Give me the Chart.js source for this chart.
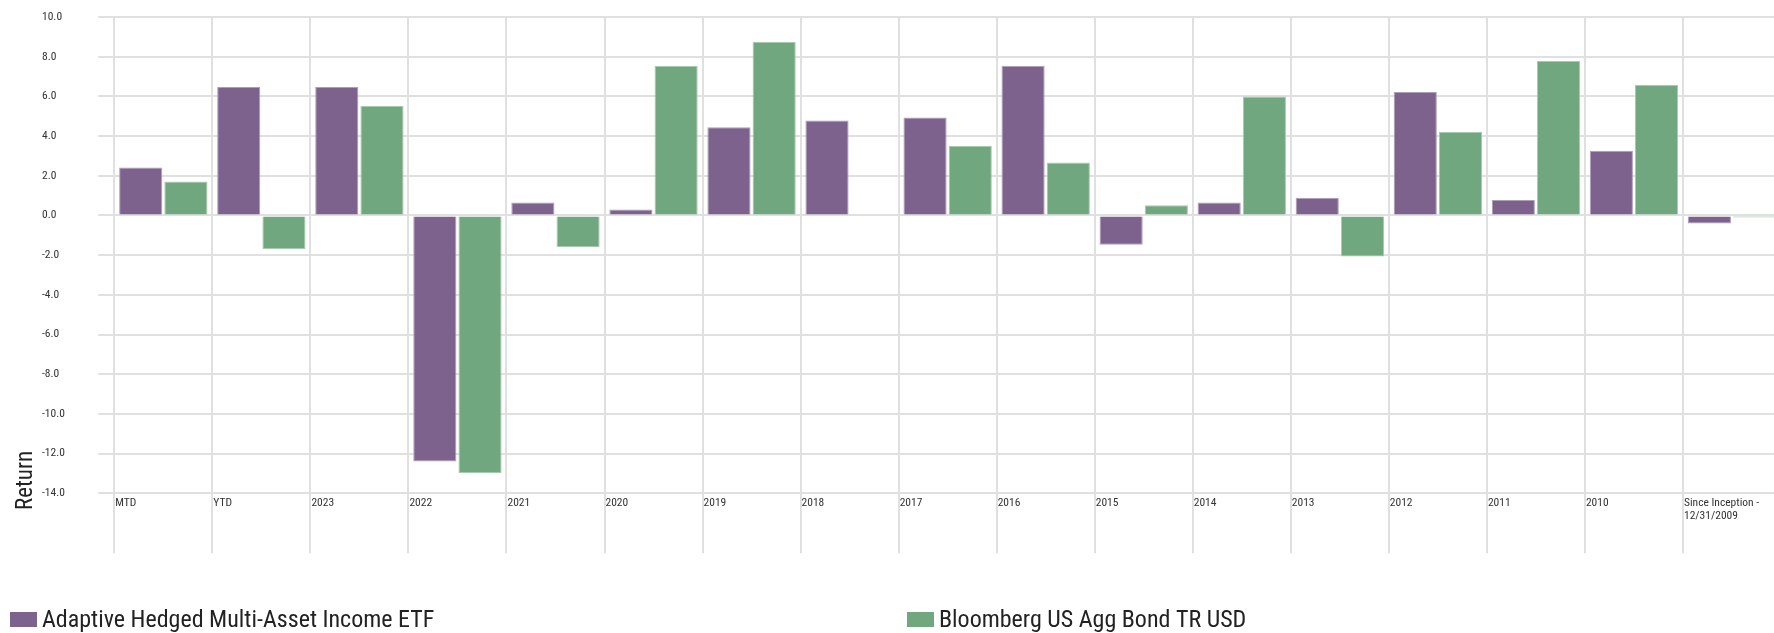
<!DOCTYPE html>
<html>
<head>
<meta charset="utf-8">
<script src="https://cdn.jsdelivr.net/npm/chart.js@4.4.1/dist/chart.umd.min.js"></script>
<style>
  html, body { margin: 0; padding: 0; background: #fff; overflow: hidden; width: 1774px; height: 633px; }
  canvas { display: block; position: absolute; left: 0; top: 0; }
</style>
</head>
<body>
<canvas id="c" width="1782" height="633"></canvas>
<script>
const categories = ['MTD', 'YTD', '2023', '2022', '2021', '2020', '2019', '2018', '2017', '2016', '2015', '2014', '2013', '2012', '2011', '2010', ['Since Inception -', '12/31/2009']];
const fundName = 'Adaptive Hedged Multi-Asset Income ETF';
const benchName = 'Bloomberg US Agg Bond TR USD';
const fundReturns = [2.42, 6.47, 6.47, -12.40, 0.65, 0.30, 4.45, 4.79, 4.94, 7.54, -1.48, 0.65, 0.89, 6.22, 0.78, 3.26, -0.40];
const benchReturns = [1.71, -1.69, 5.51, -12.98, -1.59, 7.53, 8.74, null, 3.51, 2.67, 0.52, 6.00, -2.07, 4.20, 7.78, 6.59, -0.10];
const yMin = -14, yMax = 10, yStep = 2;
const yAxisTitle = 'Return';

const FONT = "Roboto, 'Liberation Sans', sans-serif";
const PURPLE = '#7C628C';
const GREEN = '#70A77E';
const PURPLE_EDGE = '#ad9dba';
const GREEN_EDGE = '#a6caae';
const GRID = '#e0e0e0';

const customDecor = {
  id: 'customDecor',
  afterDraw(chart) {
    const ctx = chart.ctx;
    ctx.save();
    ctx.fillStyle = '#222';
    ctx.font = "condensed 23px " + FONT;
    ctx.textAlign = 'left';
    ctx.textBaseline = 'alphabetic';
    ctx.translate(31.5, 510);
    ctx.rotate(-Math.PI / 2);
    ctx.fillText(yAxisTitle, 0, 0);
    ctx.restore();
    ctx.save();
    const xs = [10, 907];
    chart.data.datasets.forEach((ds, i) => {
      ctx.fillStyle = ds.backgroundColor;
      ctx.fillRect(xs[i], 612, 27, 15);
      ctx.fillStyle = '#222';
      ctx.font = "condensed 24px " + FONT;
      ctx.textAlign = 'left';
      ctx.textBaseline = 'alphabetic';
      ctx.fillText(ds.label, xs[i] + 32, 627);
    });
    ctx.restore();
  }
};

const chart = new Chart(document.getElementById('c'), {
  type: 'bar',
  data: {
    labels: categories,
    datasets: [
      { label: fundName, data: fundReturns, backgroundColor: PURPLE, borderColor: PURPLE_EDGE, borderWidth: 1 },
      { label: benchName, data: benchReturns, backgroundColor: GREEN, borderColor: GREEN_EDGE, borderWidth: 1 }
    ]
  },
  options: {
    responsive: false,
    animation: false,
    devicePixelRatio: 1,
    layout: { padding: { top: 17, left: 42, right: 1, bottom: 79.7 } },
    categoryPercentage: 0.922,
    barPercentage: 0.955,
    plugins: { legend: { display: false }, tooltip: { enabled: false } },
    scales: {
      x: {
        offset: true,
        afterFit(scale) { scale.height = 60; },
        grid: { offset: true, color: GRID, lineWidth: 2, drawTicks: true, tickLength: 60, tickColor: GRID, tickWidth: 2 },
        border: { color: GRID, width: 2 },
        ticks: {
          align: 'start',
          autoSkip: false,
          maxRotation: 0,
          minRotation: 0,
          padding: -57,
          labelOffset: 0,
          color: '#333',
          font: { family: FONT, weight: 'extra-condensed', size: 11.5, lineHeight: 1.16 }
        }
      },
      y: {
        min: yMin,
        max: yMax,
        afterFit(scale) { scale.width = 72.3; },
        grid: { color: GRID, lineWidth: 2, drawTicks: true, tickLength: 16, tickColor: GRID, tickWidth: 2 },
        border: { color: GRID, width: 2 },
        ticks: {
          stepSize: yStep,
          crossAlign: 'far',
          color: '#333',
          font: { family: FONT, weight: 'extra-condensed', size: 11.5 },
          callback: (v) => Number(v).toFixed(1)
        }
      }
    }
  },
  plugins: [customDecor]
});

const area = chart.chartArea;
const cw = (area.right - area.left) / categories.length;
chart.options.scales.x.ticks.labelOffset = -cw / 2 + 1;
chart.update('none');
</script>
</body>
</html>
